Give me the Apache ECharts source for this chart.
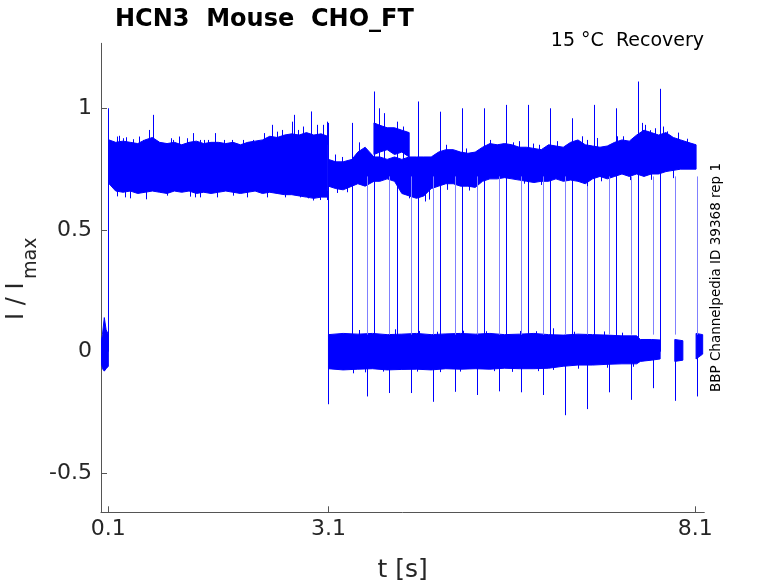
<!DOCTYPE html>
<html><head><meta charset="utf-8">
<script src="https://cdn.jsdelivr.net/npm/echarts@6/dist/echarts.min.js"></script>
<style>html,body{margin:0;padding:0;background:#fff}#c{width:778px;height:583px}</style>
</head><body><div id="c"></div>
<script>
// ---- tick labels ----
const xTicks = [0.1, 3.1, 8.1];
const yTicks = [-0.5, 0, 0.5, 1];

// ---- noise bands: time, lower and upper envelope ----
// holding before the pulse
const tHold  = [0.0, 0.02, 0.045, 0.07, 0.1];
const loHold = [-0.04, -0.07, -0.08, -0.07, -0.06];
const hiHold = [0.04, 0.07, 0.14, 0.09, 0.07];
// conditioning pulse 0.1 - 3.1 s
const tCond  = [0.11,0.2,0.3,0.4,0.5,0.6,0.7,0.8,0.9,1.0,1.1,1.2,1.3,1.4,1.5,1.6,1.7,1.8,1.9,2.0,2.1,2.2,2.3,2.4,2.5,2.6,2.7,2.8,2.9,3.0,3.09];
const hiCond = [0.87,0.86,0.865,0.86,0.855,0.87,0.88,0.86,0.855,0.86,0.85,0.86,0.865,0.855,0.86,0.86,0.855,0.86,0.85,0.86,0.865,0.87,0.885,0.88,0.89,0.895,0.89,0.9,0.89,0.895,0.885];
const loCond = [0.69,0.66,0.655,0.66,0.65,0.655,0.66,0.655,0.65,0.66,0.655,0.66,0.65,0.655,0.65,0.655,0.66,0.655,0.65,0.655,0.66,0.65,0.655,0.65,0.645,0.645,0.64,0.635,0.63,0.635,0.635];
// test pulses (upper level) after 3.1 s
const tTest  = [3.1,3.2,3.3,3.42,3.5,3.6,3.72,3.8,3.9,4.0,4.1,4.2,4.3,4.4,4.5,4.6,4.7,4.8,4.9,5.0,5.1,5.2,5.3,5.4,5.5,5.6,5.7,5.8,5.9,6.0,6.1,6.2,6.3,6.4,6.5,6.6,6.7,6.8,6.9,7.0,7.1,7.2,7.3,7.4,7.5,7.6,7.7,7.8,7.9,8.0,8.11];
const hiTest = [0.79,0.78,0.78,0.79,0.82,0.84,0.80,0.80,0.79,0.80,0.79,0.80,0.80,0.80,0.80,0.82,0.83,0.83,0.82,0.815,0.82,0.84,0.855,0.85,0.855,0.85,0.84,0.84,0.835,0.83,0.85,0.845,0.84,0.86,0.87,0.85,0.845,0.84,0.845,0.86,0.87,0.865,0.89,0.91,0.9,0.89,0.9,0.88,0.87,0.86,0.85];
const loTest = [0.68,0.67,0.665,0.68,0.69,0.68,0.70,0.70,0.71,0.70,0.65,0.64,0.63,0.64,0.67,0.68,0.69,0.69,0.68,0.68,0.675,0.70,0.71,0.71,0.715,0.71,0.705,0.70,0.695,0.70,0.70,0.71,0.70,0.705,0.70,0.69,0.71,0.72,0.71,0.72,0.73,0.72,0.73,0.72,0.73,0.73,0.74,0.745,0.75,0.75,0.75];
// raised sub-band 3.7 - 4.2 s
const tRaised  = [3.72,3.8,3.9,4.0,4.1,4.2];
const hiRaised = [0.94,0.93,0.92,0.92,0.91,0.90];
const loRaised = [0.81,0.82,0.83,0.81,0.82,0.80];
// recovery gaps (zero level)
const tGap  = [3.1,3.3,3.5,3.7,3.9,4.1,4.3,4.5,4.7,4.9,5.1,5.3,5.5,5.7,5.9,6.1,6.3,6.5,6.7,6.9,7.1,7.3,7.35,7.5,7.62];
const hiGap = [0.07,0.075,0.072,0.075,0.07,0.072,0.075,0.07,0.073,0.075,0.072,0.075,0.07,0.072,0.075,0.07,0.068,0.072,0.07,0.068,0.065,0.065,0.05,0.05,0.048];
const loGap = [-0.07,-0.075,-0.072,-0.07,-0.075,-0.073,-0.072,-0.075,-0.07,-0.072,-0.07,-0.072,-0.068,-0.07,-0.07,-0.068,-0.06,-0.055,-0.055,-0.052,-0.05,-0.05,-0.04,-0.035,-0.03];
const tGap2 = [7.82, 7.93], hiGap2 = [0.05, 0.045], loGap2 = [-0.04, -0.035];
const tGap3 = [8.11, 8.2],  hiGap3 = [0.075, 0.07], loGap3 = [-0.03, -0.01];

// ---- steps: [time, from, to] ----
const steps = [[0.1, 0.0, 1.0], [3.095, -0.216, 0.94]];
// end-of-gap transients (upward peaks)
const peakT = [3.425,3.725,4.03,4.325,4.625,4.925,5.224,5.52,5.82,6.12,6.424,6.72,7.019,7.323,7.623];
const peakV = [0.94,1.069,0.945,1.028,0.986,1.0,1.0,1.014,1.014,1.0,0.959,1.014,1.0,1.11,1.08];
// test-pulse onsets (downward transient then rise)
const onsetT = [3.621,3.925,4.225,4.529,4.825,5.12,5.424,5.724,6.019,6.324,6.619,6.919,7.219,7.523,7.818,8.118];
const onsetV = [-0.184,-0.17,-0.17,-0.206,-0.165,-0.178,-0.163,-0.167,-0.178,-0.261,-0.236,-0.167,-0.198,-0.15,-0.202,-0.184];

// ---- noise spikes on the band edges ----
const condUpT = [0.213,0.25,0.304,0.341,0.441,0.522,0.568,0.659,0.713,0.781,0.949,0.986,1.068,1.177,1.249,1.349,1.408,1.463,1.554,1.676,1.781,1.931,2.076,2.226,2.326,2.394,2.462,2.598,2.63,2.689,2.748,2.857,2.939,3.021,3.076];
const condUpV = [0.884,0.887,0.877,0.881,0.873,0.884,0.87,0.911,0.973,0.863,0.877,0.87,0.884,0.877,0.898,0.87,0.87,0.87,0.898,0.87,0.87,0.87,0.87,0.898,0.932,0.904,0.911,0.945,0.973,0.911,0.925,0.987,0.932,0.932,0.945];
const condDnT = [0.213,0.327,0.395,0.609,0.895,1.213,1.281,1.349,1.577,1.804,1.985,2.258,2.507,2.712,2.826,2.894,2.985,3.076];
const condDnV = [0.638,0.634,0.63,0.626,0.641,0.637,0.634,0.634,0.634,0.641,0.634,0.634,0.634,0.634,0.63,0.621,0.623,0.623];
const testUpT = [3.19,3.29,3.51,3.79,3.86,4.12,4.7,4.98,5.3,5.62,5.69,5.89,5.97,6.21,6.55,6.62,6.76,7.03,7.12,7.37,7.41,7.48,7.55,7.66,7.71,7.87,7.98];
const testUpV = [0.81,0.80,0.86,1.0,0.98,0.925,0.85,0.835,0.87,0.86,0.865,0.855,0.85,0.865,0.885,0.87,0.878,0.885,0.885,0.94,0.932,0.91,0.918,0.925,0.905,0.9,0.875];
const testDnT = [3.21,3.35,4.2,4.41,4.47,4.72,5.02,5.76,6.0,6.62,6.82,7.21,7.5,7.8];
const testDnV = [0.652,0.655,0.63,0.617,0.625,0.665,0.662,0.69,0.685,0.68,0.7,0.705,0.706,0.713];
const gapUpT = [3.51,3.72,4.01,4.33,4.58,4.93,5.25,5.71,5.93,6.16,6.45,6.86,7.1];
const gapUpV = [0.089,0.085,0.092,0.085,0.082,0.086,0.084,0.085,0.084,0.096,0.082,0.083,0.078];
const gapDnT = [3.44,3.6,3.85,4.3,4.62,4.89,5.35,5.6,5.95,6.16,6.5,6.9,7.25];
const gapDnV = [-0.089,-0.085,-0.082,-0.082,-0.084,-0.082,-0.08,-0.083,-0.08,-0.075,-0.07,-0.066,-0.062];

const bands = [
  {t:tHold, lo:loHold, hi:hiHold},
  {t:tCond, lo:loCond, hi:hiCond},
  {t:tTest, lo:loTest, hi:hiTest},
  {t:tRaised, lo:loRaised, hi:hiRaised},
  {t:tGap, lo:loGap, hi:hiGap},
  {t:tGap2, lo:loGap2, hi:hiGap2},
  {t:tGap3, lo:loGap3, hi:hiGap3}
];
const peakLines = peakT.map((t,i)=>[t, 0, peakV[i]]);
const onsetDown = onsetT.map((t,i)=>[t, onsetV[i], 0]);
const onsetRise = onsetT.map((t)=>[t, 0.07, 0.72]);
// spikes start inside the band they belong to
const edgeSpikes = [].concat(
  condUpT.map((t,i)=>[t, 0.85, condUpV[i]]),
  condDnT.map((t,i)=>[t, 0.66, condDnV[i]]),
  testUpT.map((t,i)=>[t, 0.76, testUpV[i]]),
  testDnT.map((t,i)=>[t, 0.76, testDnV[i]]),
  gapUpT.map((t,i)=>[t, 0, gapUpV[i]]),
  gapDnT.map((t,i)=>[t, 0, gapDnV[i]])
);

const BLUE = '#0000ff', LIGHT = '#8080ff';
function px(v){ return Math.round(v) + 0.5; }
function makeVline(color){
  return function(params, api){
    const a = api.coord([api.value(0), api.value(1)]);
    const b = api.coord([api.value(0), api.value(2)]);
    return {type:'line', shape:{x1:px(a[0]), y1:a[1], x2:px(a[0]), y2:b[1]}, style:{stroke:color, lineWidth:1}};
  };
}
function lineSeries(data, color){
  return {type:'custom', data:data, renderItem:makeVline(color), encode:{x:0, y:[1,2]}, silent:true, clip:true, z:3};
}

const chart = echarts.init(document.getElementById('c'), null, {renderer:'canvas'});
const AX = '#555555', TXT = '#262626', FONT = 'DejaVu Sans';
chart.setOption({
  animation:false,
  backgroundColor:'#ffffff',
  grid:{left:101, top:43.3, right:73.7, bottom:70.7, containLabel:false, outerBoundsMode:'none'},
  xAxis:{type:'value', min:0, max:8.222,
    axisLine:{onZero:false, lineStyle:{color:AX, width:1}},
    axisTick:{inside:true, length:6, lineStyle:{color:AX}, customValues:xTicks},
    axisLabel:{customValues:xTicks, formatter:(v)=>String(v), color:TXT, fontSize:22, fontFamily:FONT, margin:6},
    splitLine:{show:false},
    name:'t [s]', nameLocation:'middle', nameGap:46,
    nameTextStyle:{fontSize:25, color:TXT, fontFamily:FONT}
  },
  yAxis:{type:'value', min:-0.66, max:1.267,
    axisLine:{show:true, onZero:false, lineStyle:{color:AX, width:1}},
    axisTick:{show:true, inside:true, length:6, lineStyle:{color:AX}, customValues:yTicks},
    axisLabel:{customValues:yTicks, formatter:(v)=>String(v), color:TXT, fontSize:22, fontFamily:FONT, margin:9},
    splitLine:{show:false}
  },
  graphic:[
    {type:'text', left:115, top:8, style:{text:'HCN3  Mouse  CHO_FT', font:'bold 24px "DejaVu Sans"', fill:'#000'}},
    {type:'text', x:704, y:41, style:{text:'15 °C  Recovery', font:'19px "DejaVu Sans"', fill:'#000', align:'right', verticalAlign:'middle'}},
    {type:'text', x:716, y:277.5, rotation:Math.PI/2, style:{text:'BBP Channelpedia ID 39368 rep 1', font:'13.5px "DejaVu Sans"', fill:'#000', align:'center', verticalAlign:'middle'}},
    {type:'text', x:17, y:320, rotation:Math.PI/2, style:{text:'I / I', font:'24px "DejaVu Sans"', fill:TXT, align:'left', verticalAlign:'middle'}},
    {type:'text', x:31.5, y:279, rotation:Math.PI/2, style:{text:'max', font:'19px "DejaVu Sans"', fill:TXT, align:'left', verticalAlign:'middle'}}
  ],
  series:[
    {type:'custom', silent:true, clip:true, z:2,
     data: bands.map((b,i)=>[b.t[0], b.hi[0], i]),
     encode:{x:0, y:1},
     renderItem:function(params, api){
       const b = bands[params.dataIndex];
       const pts = [];
       for (let i=0;i<b.t.length;i++) pts.push(api.coord([b.t[i], b.hi[i]]));
       for (let i=b.t.length-1;i>=0;i--) pts.push(api.coord([b.t[i], b.lo[i]]));
       return {type:'polygon', shape:{points:pts}, style:{fill:BLUE, stroke:BLUE, lineWidth:1}};
     }},
    lineSeries(onsetRise, LIGHT),
    lineSeries(steps, BLUE),
    lineSeries(peakLines, BLUE),
    lineSeries(onsetDown, BLUE),
    lineSeries(edgeSpikes, BLUE)
  ]
});
</script></body></html>
